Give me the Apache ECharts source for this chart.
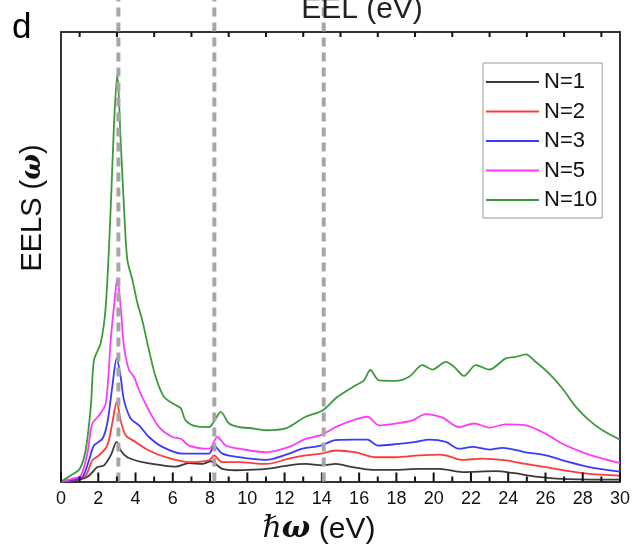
<!DOCTYPE html>
<html><head><meta charset="utf-8">
<script src="https://cdn.jsdelivr.net/npm/echarts@6/dist/echarts.min.js"></script>
<style>html,body{margin:0;padding:0;background:#fff}#c{width:643px;height:547px}</style>
</head><body><div id="c"></div>
<script>
// ---- data (x: ħω in eV, y: EELS in arbitrary units, 0-100 = axis height) ----
const seriesNames = ['N=1', 'N=2', 'N=3', 'N=5', 'N=10'];
const seriesColors = ['#3a3a3a', '#ff3a3a', '#3a3aff', '#ff3aff', '#3c9a3c'];

const n1 = [[0,0],[1.0,0.4],[1.5,1.3],[1.95,3.2],[2.31,3.6],[2.67,5.8],[2.99,8.8],[3.2,6.9],[3.56,5.4],[4.36,4.3],[5.44,3.6],[6.15,3.3],[6.87,4.1],[7.58,3.9],[8.03,4.5],[8.66,2.8],[9.38,2.5],[10.1,2.6],[11,2.8],[12.24,3.6],[13.13,3.9],[14.03,3.6],[14.74,3.9],[15.64,3.2],[16.71,2.6],[17.96,2.6],[19.22,2.8],[20.3,2.8],[21.54,2.1],[23.33,2.3],[24.24,1.9],[25.48,1.1],[26.91,0.6],[30,0.4]];
const n2 = [[0,0],[0.8,0.4],[1.32,1.3],[1.68,4.7],[2.04,5.8],[2.48,8],[2.75,12.9],[2.99,17.7],[3.2,13.6],[3.47,10.3],[4.0,8.8],[4.72,6.9],[5.62,5.4],[6.87,4.3],[7.94,4.7],[8.21,5.8],[8.66,4.3],[9.55,4.3],[11,3.9],[12.24,5.1],[13.13,5.8],[13.94,6.2],[14.74,6.9],[15.82,6.5],[16.9,5.4],[17.96,5.4],[19.22,5.8],[20.3,6],[20.83,5.6],[21.54,4.8],[22.62,5.1],[23.87,4.7],[24.94,3.9],[26.02,3.2],[27.27,2.3],[28.35,1.7],[30,1.3]];
const n3 = [[0,0],[0.7,0.4],[1.15,1],[1.5,4.7],[1.77,8],[2.22,9.5],[2.48,12.9],[2.75,21],[2.99,27.4],[3.2,23.3],[3.38,18.1],[3.74,14],[4.19,12.5],[4.72,9.9],[5.44,7.7],[6.51,6.2],[7.94,6.2],[8.21,8],[8.66,6.2],[9.55,5.4],[11,4.8],[12.24,6.2],[12.95,7.3],[13.94,8],[14.74,9.2],[15.82,9.3],[16.45,9.3],[17,8],[17.96,8.3],[19.04,8.8],[19.75,9.3],[20.65,8.8],[21.36,7.3],[22.08,7.7],[22.98,7.1],[23.7,7.5],[24.94,6.5],[26.02,5.8],[27.27,4.3],[28.35,3.2],[30,2.2]];
const n5 = [[0,0],[0.6,0.6],[1.06,1.3],[1.41,6.2],[1.68,12.9],[2.04,14.7],[2.4,17.3],[2.67,31.5],[2.88,40.4],[3.02,45.2],[3.2,38.9],[3.38,30],[3.65,24.8],[3.92,23.3],[4.19,20.3],[4.72,15.8],[5.26,12.1],[5.97,9.9],[6.43,9.5],[6.87,8],[7.94,7.3],[8.39,9.9],[8.84,8],[9.55,7.3],[11,6.5],[12.24,7.7],[13.13,9.5],[13.94,10.3],[14.74,12.1],[15.64,13.6],[16.45,14.4],[17.07,12.5],[17.96,12.9],[18.86,13.6],[19.57,15],[20.47,14.2],[21.36,12.1],[22.17,12.9],[22.98,12],[23.87,12.7],[24.94,12.5],[26.02,10.6],[26.91,8.4],[28,6.5],[29.06,5.1],[30,4.1]];
const n10 = [[0,0],[0.5,1.3],[1.0,2.8],[1.32,6.9],[1.6,16.6],[1.77,27],[2.13,30.8],[2.4,38.9],[2.67,61],[2.85,80],[3.02,90.6],[3.2,76],[3.38,61],[3.56,49.3],[3.83,44.9],[4.1,39.7],[4.36,35.9],[4.72,29.2],[5.08,23.3],[5.53,18.8],[6.15,17],[6.43,16.3],[6.69,13.6],[7.23,12.3],[7.94,12.1],[8.3,14],[8.57,15.5],[9.02,12.9],[9.55,12.1],[10.1,11.9],[11,11.4],[12.06,11.8],[13.13,14.4],[14.03,15.8],[14.83,18.8],[15.82,21.4],[16.26,22.5],[16.6,24.8],[17.07,22.5],[17.96,22.4],[18.68,23.3],[19.4,25.9],[19.93,24.9],[20.65,26.6],[21.1,25.5],[21.63,23.5],[22.26,25.9],[22.98,24.9],[23.87,27.4],[24.4,27.7],[24.94,28.3],[25.48,26.6],[26.2,24],[26.91,20.7],[27.63,16.6],[28.35,13.6],[29.06,11.4],[30,9.3]];
const seriesData = [n1, n2, n3, n5, n10];

const dashedX = [3.08, 8.23, 14.1];   // vertical guide lines (eV)
const majorTicks = [0,2,4,6,8,10,12,14,16,18,20,22,24,26,28,30];
const minorTicks = [1,3,5,7,9,11,13,15,17,19,21,23,25,27,29];
const xMin = 0, xMax = 30, xStep = 2;
const yMin = 0, yMax = 100, yDashTop = 108;

const FONT = "'Liberation Sans', Arial, sans-serif";
const chart = echarts.init(document.getElementById('c'), null, {renderer: 'canvas'});

const lineSeries = seriesNames.map((name, i) => ({
  name: name,
  type: 'line',
  data: seriesData[i],
  symbol: 'none',
  smooth: 0.3,
  lineStyle: {color: seriesColors[i], width: 1.8},
  itemStyle: {color: seriesColors[i]},
  z: 2 + i
}));

function tickLine(api, v, edge, len) {
  const p = api.coord([v, edge]);
  const dir = edge === yMax ? 1 : -1;
  return {
    type: 'line',
    shape: {x1: p[0], y1: p[1], x2: p[0], y2: p[1] + dir * len},
    style: {stroke: '#111', lineWidth: 2, fill: null}
  };
}

// dashed guide lines; the first item also carries the inward axis ticks
const guideSeries = {
  type: 'custom',
  name: 'guides',
  data: dashedX.map(x => [x, yMin]),
  encode: {x: 0, y: 1},
  z: 20,
  silent: true,
  renderItem: function (params, api) {
    const x = api.value(0);
    const p0 = api.coord([x, yMin]);
    const p1 = api.coord([x, yDashTop]);
    const children = [{
      type: 'line',
      shape: {x1: p0[0], y1: p0[1], x2: p1[0], y2: p1[1]},
      style: {stroke: '#a6a6a6', lineWidth: 4, lineDash: [9, 6], fill: null}
    }];
    if (params.dataIndex === 0) {
      majorTicks.forEach(v => children.push(tickLine(api, v, yMin, 9)));
      minorTicks.forEach(v => children.push(tickLine(api, v, yMin, 5)));
      minorTicks.forEach(v => children.push(tickLine(api, v, yMax, 5)));
    }
    return {type: 'group', children: children};
  }
};

const axisLineStyle = {show: true, onZero: false, lineStyle: {color: '#333', width: 2}};

chart.setOption({
  animation: false,
  backgroundColor: '#fff',
  grid: {left: 61, right: 23, top: 32, bottom: 65.5, containLabel: false},
  legend: {
    data: seriesNames,
    orient: 'vertical',
    left: 483, top: 63,
    padding: [8, 5, 7, 3],
    icon: 'rect',
    itemWidth: 53, itemHeight: 2, itemGap: 7.5,
    borderColor: '#999', borderWidth: 1, backgroundColor: '#fff',
    textStyle: {fontFamily: FONT, fontSize: 22, color: '#111', lineHeight: 21}
  },
  xAxis: [{
    type: 'value', position: 'bottom', min: xMin, max: xMax, interval: xStep,
    axisLine: axisLineStyle,
    axisTick: {show: false}, minorTick: {show: false},
    axisLabel: {fontFamily: FONT, fontSize: 18, color: '#111', margin: 9},
    splitLine: {show: false}
  }, {
    type: 'value', position: 'top', min: xMin, max: xMax, interval: xStep,
    axisLine: axisLineStyle,
    axisTick: {show: false}, minorTick: {show: false},
    axisLabel: {show: false},
    splitLine: {show: false}
  }],
  yAxis: [{
    type: 'value', position: 'left', min: yMin, max: yMax,
    axisLine: axisLineStyle, axisTick: {show: false}, axisLabel: {show: false},
    splitLine: {show: false}
  }, {
    type: 'value', position: 'right', min: yMin, max: yMax,
    axisLine: axisLineStyle, axisTick: {show: false}, axisLabel: {show: false},
    splitLine: {show: false}
  }],
  graphic: [
    {type: 'text', x: 12, y: 28.5, z: 100,
     style: {text: 'd', font: '35px ' + FONT, fill: '#000', align: 'left', verticalAlign: 'middle'}},
    {type: 'text', x: 362, y: 9.6, z: 100,
     style: {text: 'EEL (eV)', font: '30px ' + FONT, fill: '#222', align: 'center', verticalAlign: 'middle'}},
    {type: 'text', x: 319, y: 529.6, z: 100,
     style: {
       text: '{h|ℏ}{w|ω} (eV)', align: 'center', verticalAlign: 'middle',
       font: '30px ' + FONT, fill: '#111',
       rich: {
         h: {fontFamily: "'DejaVu Serif', serif", fontStyle: 'italic', fontSize: 30, fill: '#111'},
         w: {fontFamily: "'DejaVu Serif', serif", fontStyle: 'italic', fontWeight: 'bold', fontSize: 30, fill: '#111'}
       }
     }},
    {type: 'text', x: 33, y: 208, rotation: Math.PI / 2, z: 100,
     style: {
       text: 'EELS ({w|ω})', align: 'center', verticalAlign: 'middle',
       font: '29px ' + FONT, fill: '#111',
       rich: {
         w: {fontFamily: "'DejaVu Serif', serif", fontStyle: 'italic', fontWeight: 'bold', fontSize: 27, fill: '#111'}
       }
     }}
  ],
  series: lineSeries.concat([guideSeries])
});
</script>
</body></html>
